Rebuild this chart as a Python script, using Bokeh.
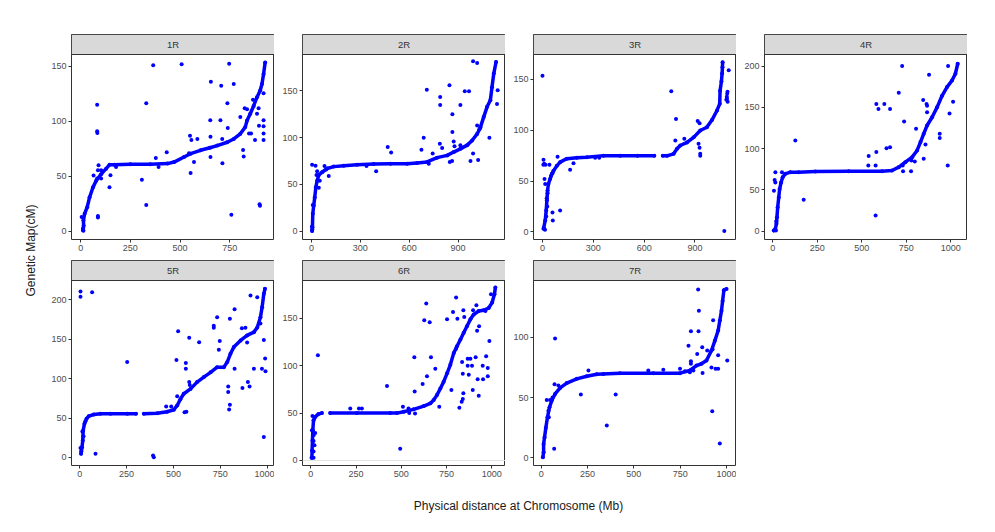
import math
from bokeh.plotting import figure
from bokeh.layouts import row, column
from bokeh.models import FixedTicker, Range1d, Span
from bokeh.core.properties import value
from bokeh.embed import file_html
from bokeh.resources import INLINE

NAN = float("nan")

# ---------------- data (Mb, cM) ----------------
CHROMS = ["1R", "2R", "3R", "4R", "5R", "6R", "7R"]

R1_CURVE = [(12,1),(15,5),(14,10),(20,16),(33,22),(45,31),(62,40),(78,46),(103,52),(128,57),(145,60.5),(170,60.5),
            (250,61),(350,61),(437,61.6),(470,63),(520,67.6),(553,70.6),(603,73.7),(650,76),(687,78),(737,81),(770,84),
            (803,88.7),(828,94.8),(837,100.8),(853,107),(870,114),(887,122),(903,128),(912,134),(920,143),(928,153.6)]
R1_OFF = [(365,151),(508,152),(747,152.5),(655,136),(707,132.5),(770,134),(330,116.5),(738,116.5),(83,115),(83,91),
          (84,89.5),(652,101),(703,101),(740,94),(550,87),(557,83),(587,84),(653,86),(712,84),(433,72),(378,66.7),
          (392,58.6),(545,71),(570,63),(553,53),(713,62),(653,67.6),(308,47),(330,24),(758,15),(900,24.7),(902,23.3),
          (90,60),(87,55.6),(103,55.6),(103,48),(83,48),(65,50.7),(145,40),(150,51),(178,58.6),(87,14),(87,12.7),
          (803,104),(825,112),(837,111),(847,89),(857,89),(817,74),(820,68),(877,83),(895,112),(897,96),(920,101),
          (920,95.5),(920,89),(920,83),(920,125.6),(867,119.6),(887,107),(5,13),(12,2.7),(14,0.6)]

R2_CURVE = [(4,0),(6,4),(8,18.6),(14,27.5),(20,36),(27,47),(35,54),(45,60),(65,63),(96,67),(137,69),(198,70),(280,71),
            (382,71.8),(485,72),(587,72),(648,73),(710,74),(771,78.6),(833,81),(873,84.6),(914,88),(956,92),(986,97),
            (1017,104),(1037,111),(1057,122),(1078,133),(1098,140),(1108,154),(1119,168.6),(1133,181)]
R2_OFF = [(992,181.8),(1017,180),(708,151.4),(847,156),(790,143.6),(790,135),(941,149.6),(967,149.6),(865,125),
          (914,135),(1143,150.7),(1139,136),(865,106),(689,100),(1092,100),(468,90),(489,84),(675,87),(744,83),
          (788,93.6),(802,89),(873,96),(878,90.7),(914,92),(992,83),(976,75),(1023,76),(863,75),(849,74),(720,72),
          (397,64),(338,69.6),(106,59),(80,69.6),(90,66),(31,60),(35,64),(4,71),(25,70),(51,54),(45,46.4),
          (1031,109),(1017,113),(8,28),(5,2),(3,5)]

R3_CURVE = [(6,3),(16,11),(22,21),(26,31),(30,40.7),(35,47),(45,52),(55,57),(65,60),(85,65),(104,68.6),(144,72),
            (203,73),(262,73.5),(360,75),(459,75),(560,74.8),(660,74.8),(NAN,NAN),(710,74.8),(735,74.8),(774,76.8),
            (794,81.7),(813,85),(853,88),(892,93),(931,99.8),(970,103),(1000,110),(1030,119.5),(1046,126),
            (1048,139),(1056,148),(1060,156),(1062,162),(1063,167)]
R3_OFF = [(0,153.6),(6,71),(10,67),(41,66),(12,52),(16,47),(59,19),(61,11),(104,21),(163,61),(183,67.6),(89,74),
          (335,73),(311,73),(760,138.5),(788,111),(784,90),(837,91.6),(916,109),(927,107),(921,86.6),(927,82.7),
          (931,76.8),(931,75),(1073,0.7),(1099,159),(1085,130),(1088,133),(1090,136),(1092,138),(1093,128),
          (1089,131),(25,33),(28,25),(22,15),(30,38),(5,66),(18,66),(50,55),(60,58),(8,4),(15,2)]

R4_CURVE = [(6,0.8),(15,2.8),(21,9),(24,17),(28,29),(34,41),(39,51),(47,59),(56,65.5),(71,69.5),(99,71.5),(146,71.5),
            (240,72.3),(427,72.7),(614,72.7),(670,73.5),(708,77.6),(745,83.6),(783,89.7),(811,97.8),(830,108),
            (848,118),(867,128),(895,138),(923,150),(951,164),(979,174.5),(1007,182.6),(1026,190.7),(1039,202.8)]
R4_OFF = [(727,200),(985,200),(878,189.5),(708,167.7),(738,133),(582,154),(594,148),(627,154),(659,148),(845,159),
          (864,154),(993,142.6),(1013,156.8),(938,118),(938,113),(127,110),(639,100.6),(659,101.8),(539,91),
          (582,95.8),(537,79.6),(578,79.6),(730,79.6),(732,72.7),(777,72.7),(779,85.6),(798,84.4),(858,105),
          (848,87.7),(983,79.6),(174,38),(578,19),(7,49),(11,62),(15,59),(15,71.5),(52,71.5),(805,124),(867,144),
          (867,152),(20,12),(18,1)]

R5_CURVE = [(7,4.7),(12,13),(16,21.6),(18,34),(25,42.7),(36,49),(48,52.4),(75,54.5),(110,55.4),(164,55.4),(253,55.4),
            (300,55.4),(NAN,NAN),(342,55.4),(413,56),(466,58),(502,60.5),(520,66),(537,74),(555,80.8),(591,87),
            (626,95.6),(662,102),(698,108),(733,114.6),(769,114.6),(787,121),(804,131.5),(822,140),(858,148.4),
            (893,154.8),(929,159),(947,165),(964,178),(973,190.7),(982,207.6),(988,214)]
R5_OFF = [(4,210.6),(4,204),(66,209.7),(911,205.5),(947,203.4),(826,188),(733,178),(801,176),(715,164.5),(715,167),
          (525,160),(584,151.8),(637,146.3),(747,147.6),(742,136.6),(865,164),(884,164.5),(893,146),(516,123.5),
          (566,119.7),(566,112.5),(253,121),(826,112.5),(929,112.5),(972,112.5),(991,109.5),(989,125.6),(982,149),
          (964,170),(897,95.6),(906,90),(868,88),(792,90),(792,83),(801,67),(797,61),(584,95.6),(587,91.8),
          (520,77.8),(461,64.7),(488,64.7),(559,57.5),(569,58),(84,4.7),(391,2.5),(395,0.4),(982,25.8),(4,12),
          (8,8),(14,33),(30,46),(20,27)]

R6_CURVE = [(6,2.8),(7,10.6),(9,21),(11,32),(15,42.5),(24,46),(42,49),(61,50),(NAN,NAN),(107,50),(255,50),(439,50),
            (476,50),(513,51.4),(568,54),(624,57.4),(661,60.3),(679,63.8),(697,69),(716,76),(734,83),(753,92),
            (771,101),(790,113.5),(808,120.6),(827,127.7),(845,134.8),(863,141.8),(882,149),(900,154),(928,157.8),
            (955,158.5),(983,161),(1002,166.7),(1015,175.5),(1020,182.6)]
R6_OFF = [(39,111),(638,165.6),(803,172),(786,156.7),(810,149.6),(753,149),(627,148),(657,146),(843,158.5),
          (848,151.4),(897,158.5),(915,163.8),(965,157.8),(996,175.5),(987,126),(930,141.8),(919,137),(572,109),
          (664,109),(803,118),(867,107.4),(882,107.4),(911,109),(969,110),(836,104),(867,100),(891,100),(950,100),
          (978,97.5),(688,96.8),(642,89),(618,80.8),(574,72.7),(421,78.7),(777,74.5),(843,71),(895,74.5),
          (928,68.4),(873,90.4),(840,91.5),(978,89),(922,85.8),(952,85.8),(840,65),(834,62),(821,55.7),(710,56.7),
          (494,12.4),(218,55),(266,55),(282,55),(509,56.7),(540,55),(576,49.6),(544,50),(9,47),(6,32),(15,26.6),
          (24,29),(15,20.6),(20,16),(15,9.6),(4,2.8),(15,2.8)]

R7_CURVE = [(9,0.5),(13,4.7),(13,11.6),(18,17),(25,25),(34,33.7),(45,42),(57,47.5),(75,53),(102,58),(138,62),
            (192,65.5),(246,67.7),(300,69.3),(425,70.2),(605,70.2),(749,70.2),(802,72.4),(838,76.5),(865,78),
            (892,80.7),(919,89),(937,97),(955,105.5),(964,113.8),(973,122),(979,130),(986,139),(1000,140)]
R7_OFF = [(847,139.5),(851,122),(808,105),(849,105),(928,114),(795,93),(842,86),(869,91.7),(896,89),(925,90),
          (955,85),(1004,80.7),(871,70.4),(919,75),(941,73.8),(955,73.8),(808,80),(808,78),(75,99),(72,61),(70,7.5),
          (214,52.5),(402,52.5),(354,26.8),(923,38.7),(964,12),(255,72.4),(336,69.6),(578,72.4),(659,73),(749,73.8),
          (776,71.8),(802,71),(821,72.4),(39,39),(30,48),(48,48),(61,50),(93,60),(41,33.7)]

X_TICKS = {"1R": [0, 250, 500, 750], "2R": [0, 300, 600, 900], "3R": [0, 300, 600, 900],
           "4R": [0, 250, 500, 750, 1000], "5R": [0, 250, 500, 750, 1000], "6R": [0, 250, 500, 750, 1000],
           "7R": [0, 250, 500, 750, 1000]}
Y_TICKS = {"1R": [0, 50, 100, 150], "2R": [0, 50, 100, 150], "3R": [0, 50, 100, 150],
           "4R": [0, 50, 100, 150, 200], "5R": [0, 50, 100, 150, 200], "6R": [0, 50, 100, 150],
           "7R": [0, 50, 100]}

X_TITLE = "Physical distance at Chromosome (Mb)"
Y_TITLE = "Genetic Map(cM)"

CURVES = {"1R": R1_CURVE, "2R": R2_CURVE, "3R": R3_CURVE, "4R": R4_CURVE, "5R": R5_CURVE, "6R": R6_CURVE, "7R": R7_CURVE}
OFFS = {"1R": R1_OFF, "2R": R2_OFF, "3R": R3_OFF, "4R": R4_OFF, "5R": R5_OFF, "6R": R6_OFF, "7R": R7_OFF}

# ---------------- layout / style ----------------
X_RANGE = {"1R": (-46, 975), "2R": (-55, 1191), "3R": (-53, 1145), "4R": (-46, 1094),
           "5R": (-44, 1039), "6R": (-46, 1076), "7R": (-41.5, 1054)}
Y_RANGE = {"1R": (-7.4, 160.8), "2R": (-9, 189), "3R": (-7.6, 174.6), "4R": (-10, 214),
           "5R": (-10.2, 224.5), "6R": (-5.3, 190), "7R": (-6.3, 147)}

FONT = "Liberation Sans"
BLUE = "#0000FF"
PANEL_W = 231
LEFT_B = 28
STRIP_H = 20
DATA_H = 185
FRAME_H = STRIP_H + DATA_H
BOTTOM_B = 18


def panel(name, top_b):
    x0, x1 = X_RANGE[name]
    y0, y1 = Y_RANGE[name]
    yend = y1 + (y1 - y0) * STRIP_H / DATA_H
    p = figure(width=PANEL_W, height=top_b + FRAME_H + BOTTOM_B, title=None,
               x_range=Range1d(x0, x1), y_range=Range1d(y0, yend),
               output_backend="svg", toolbar_location=None,
               min_border_left=LEFT_B, min_border_right=0,
               min_border_top=top_b, min_border_bottom=BOTTOM_B)
    p.xgrid.visible = False
    p.ygrid.visible = False
    p.outline_line_color = "#333333"
    p.outline_line_width = 1
    p.background_fill_color = "white"
    p.border_fill_color = "white"
    for ax in (p.xaxis[0], p.yaxis[0]):
        ax.axis_line_color = None
        ax.major_tick_line_color = "#333333"
        ax.major_tick_out = 3
        ax.major_tick_in = 0
        ax.minor_tick_line_color = None
        ax.major_label_text_color = "#4D4D4D"
        ax.major_label_text_font = FONT
        ax.major_label_text_font_size = "9px"
        ax.major_label_standoff = 2
    p.xaxis.ticker = FixedTicker(ticks=X_TICKS[name])
    p.yaxis.ticker = FixedTicker(ticks=Y_TICKS[name])

    if name == "6R":
        p.add_layout(Span(location=0, dimension="width", line_color="#E3E3E3", line_width=1))

    cx = [a for a, b in CURVES[name]]
    cy = [b for a, b in CURVES[name]]
    ox = [a for a, b in OFFS[name]]
    oy = [b for a, b in OFFS[name]]
    p.line(cx, cy, line_color=BLUE, line_width=3.5, line_join="round", line_cap="round")
    p.scatter(cx, cy, size=4, fill_color=BLUE, line_color=None)
    p.scatter(ox, oy, size=4, fill_color=BLUE, line_color=None)

    # facet strip
    p.quad(left=[x0], right=[x1], bottom=[y1], top=[yend], fill_color="#D9D9D9", line_color="#333333", line_width=1)
    p.text(x=[(x0 + x1) / 2], y=[(y1 + yend) / 2], text=[name], text_font=value(FONT), text_font_size="9.5px",
           text_color="#333333", text_align="center", text_baseline="middle")
    return p


row1 = row(*[panel(n, 34) for n in CHROMS[:4]])
row2 = row(*[panel(n, 21 - BOTTOM_B) for n in CHROMS[4:]])
grid_h = (34 + FRAME_H + BOTTOM_B) + (21 - BOTTOM_B + FRAME_H + BOTTOM_B)

ylab = figure(width=43, height=grid_h, title=None, x_range=Range1d(0, 43), y_range=Range1d(0, grid_h),
              x_axis_type=None, y_axis_type=None, min_border=0, outline_line_color=None,
              toolbar_location=None, output_backend="svg")
ylab.text(x=[30], y=[grid_h - 250], text=[Y_TITLE], angle=math.pi / 2, text_font=value(FONT),
          text_font_size="12px", text_color="#1A1A1A", text_align="center", text_baseline="middle")

xh = 532 - grid_h
xlab = figure(width=995, height=xh, title=None, x_range=Range1d(0, 995), y_range=Range1d(0, xh),
              x_axis_type=None, y_axis_type=None, min_border=0, outline_line_color=None,
              toolbar_location=None, output_backend="svg")
xlab.text(x=[518], y=[xh - (505 - grid_h)], text=[X_TITLE], text_font=value(FONT),
          text_font_size="12px", text_color="#1A1A1A", text_align="center", text_baseline="middle")

layout = column(row(ylab, column(row1, row2)), xlab)

open("out.html", "w").write(file_html(layout, INLINE))
